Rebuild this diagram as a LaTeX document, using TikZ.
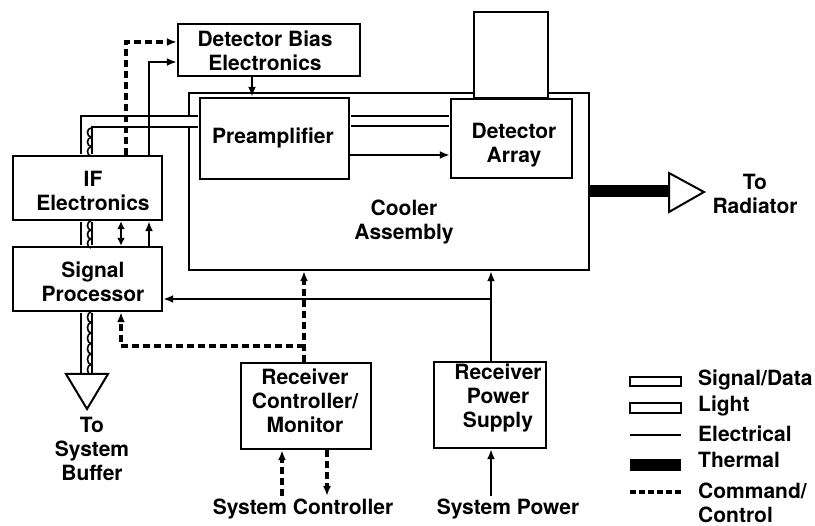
\documentclass[tikz,border=0pt]{standalone}
\usepackage{fontspec}
\setmainfont{TeX Gyre Heros}
\usetikzlibrary{arrows.meta,calc}
\begin{document}
\begin{tikzpicture}[x=1pt,y=-1pt,
  box/.style={draw,line width=2.4pt,inner sep=0pt},
  txt/.style={inner sep=0pt,align=center,font=\fontsize{21}{24}\selectfont\bfseries},
  elec/.style={line width=2.8pt},
  ctrl/.style={line width=3.2pt,dash pattern=on 7pt off 4pt},
  tip/.style={-{Latex[length=10pt,width=8pt]}},
  bus/.style={double=white,double distance=8.5pt,line width=2pt,shorten <=1.2pt,shorten >=1.2pt},
  scal/.style={line width=1.6pt},
  ]
\useasboundingbox (0,0) rectangle (815,526);

% boxes
\node[box,minimum width=400pt,minimum height=177pt] (cool) at (389,181.5) {};
\node[box,fill=white,minimum width=74pt,minimum height=86pt] (win) at (511,55) {};
\node[box,minimum width=182pt,minimum height=52pt] (dbe) at (269,50) {};
\node[box,fill=white,minimum width=149pt,minimum height=81pt] (pre) at (274.5,138.5) {};
\node[box,fill=white,minimum width=121pt,minimum height=79pt] (det) at (511.5,138.5) {};
\node[box,minimum width=149pt,minimum height=64pt] (ife) at (87.5,188) {};
\node[box,minimum width=149pt,minimum height=64pt] (sp) at (87.5,279) {};
\node[box,minimum width=130pt,minimum height=86pt] (rcm) at (306,406) {};
\node[box,minimum width=112pt,minimum height=86pt] (rps) at (490,405) {};

% texts
\node[txt] (dbet) at (265,51) {Detector Bias\\Electronics};
\node[txt] (coolt) at (404,222) {Cooler\\Assembly};
\node[txt] (pret) at (273,138) {Preamplifier};
\node[txt] (dett) at (514,145) {Detector\\Array};
\node[txt] (ifet) at (93,191) {IF\\Electronics};
\node[txt] (spt) at (93,282) {Signal\\Processor};
\node[txt] (rcmt) at (305,401) {Receiver\\Controller/\\Monitor};
\node[txt] (rpst) at (498,398) {Receiver\\Power\\Supply};
\node[txt] (buft) at (92,449) {To\\System\\Buffer};
\node[txt] (radt) at (755,194) {To\\Radiator};
\node[txt,anchor=base] (sct) at (303,515) {System Controller};
\node[txt,anchor=base] (spw) at (508,515) {System Power};

% coordinates
\coordinate (cA) at (126,42);
\coordinate (cB) at (149,62);
\coordinate (cC) at (252,0);
\coordinate (bA) at (86.5,121.5);
\coordinate (bB) at (0,121);
\coordinate (eA) at (0,155);
\coordinate (xL) at (121,0);
\coordinate (xR) at (149,0);
\coordinate (dJ) at (304,346);
\coordinate (eJ) at (491,299);
\coordinate (cU) at (282,496);
\coordinate (cD) at (327,496);
\coordinate (pU) at (491,496);
\coordinate (tR) at (669,191);
\coordinate (bT) at (87,374);

% signal / light buses
\draw[bus] (ife.north -| bA) -- (bA) -- (bA -| pre.west);
\foreach \yy in {128,137.5,147} \draw[scal] (91,\yy) arc[start angle=270,end angle=90,x radius=3.5,y radius=4.5];
\draw[bus] (ife.south -| bA) -- (sp.north -| bA);
\foreach \yy in {221,230,239} \draw[scal] (91,\yy) arc[start angle=270,end angle=90,x radius=3.5,y radius=4.5];
\draw[bus,shorten >=0pt] (sp.south -| bA) -- (bT -| bA);
\foreach \yy in {312,322.5,333,343.5,354,364.5} \draw[scal] (91,\yy) arc[start angle=270,end angle=90,x radius=3.5,y radius=5.25];
\draw[bus] (pre.east |- bB) -- (det.west |- bB);

% buffer triangle
\draw[line width=2pt,fill=white] (bT) ++(-21,0) -- ++(42,0) -- ++(-21,35) -- cycle;

% electrical and control
\draw[elec,tip] (pre.east |- eA) -- (det.west |- eA);
\draw[ctrl,tip] (ife.north -| cA) -- (cA) -- (cA -| dbe.west);
\draw[elec,tip] (ife.north -| cB) -- (cB) -- (cB -| dbe.west);
\draw[elec,tip] (dbe.south -| cC) -- (pre.north -| cC);
\draw[elec,{Latex[length=8pt,width=8pt]}-{Latex[length=8pt,width=8pt]}] (sp.north -| xL) -- (ife.south -| xL);
\draw[elec,tip] (sp.north -| xR) -- (ife.south -| xR);
\draw[ctrl,tip] (rcm.north -| dJ) -- (cool.south -| dJ);
\draw[ctrl,tip] (dJ) -| (sp.south -| xL);
\draw[elec,tip] (rps.north -| eJ) -- (cool.south -| eJ);
\draw[elec,tip] (eJ) -- (eJ -| sp.east);
\draw[ctrl,tip] (cU) -- (rcm.south -| cU);
\draw[ctrl,tip] (rcm.south -| cD) -- (cD);
\draw[elec,tip] (pU) -- (rps.south -| pU);

% thermal
\draw[line width=12pt] (cool.east |- tR) -- (tR);
\draw[line width=2pt,fill=white] (tR) ++(0,-18) -- ++(35,19) -- ++(-35,20) -- cycle;

% legend
\draw[line width=2pt] (630,377) rectangle (681,386);
\draw[line width=2pt] (630,403) rectangle (681,413);
\draw[elec] (630,435) -- (681,435);
\fill (630,459) rectangle (681,471);
\draw[ctrl,dash pattern=on 6pt off 3pt] (630,492) -- (681,492);
\node[txt,anchor=base west] (lg1) at (698,386) {Signal/Data};
\node[txt,anchor=base west] (lg2) at (698,412) {Light};
\node[txt,anchor=base west] (lg3) at (698,442) {Electrical};
\node[txt,anchor=base west] (lg4) at (698,468) {Thermal};
\node[txt,anchor=north west,align=left] (lg5) at (698,482.5) {Command/\\Control};
\end{tikzpicture}
\end{document}
